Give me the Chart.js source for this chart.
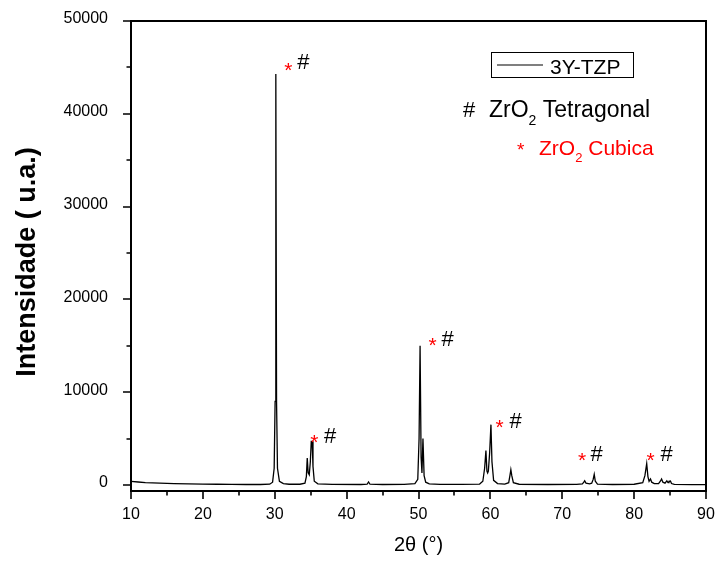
<!DOCTYPE html>
<html>
<head>
<meta charset="utf-8">
<script src="https://cdn.jsdelivr.net/npm/chart.js@4/dist/chart.umd.min.js"></script>
<style>
html,body{margin:0;padding:0;background:#fff;}
#wrap{width:719px;height:563px;}
</style>
</head>
<body>
<div id="wrap"><canvas id="c" width="719" height="563"></canvas></div>
<script>
// ---- data ----
const twoTheta = [10, 11, 12, 14, 16, 18, 20, 22, 24, 26, 28, 29.3, 29.7, 29.92, 30.05, 30.15, 30.25, 30.38, 30.65, 31.2, 32, 33.5,
  34.2, 34.4, 34.52, 34.65, 34.8, 34.95, 35.08, 35.2, 35.32, 35.5, 36, 38, 42, 42.85, 43.05, 43.25, 45, 48,
  49.5, 49.9, 50.08, 50.22, 50.36, 50.48, 50.62, 50.78, 51.0, 51.5, 53, 56,
  58.5, 58.95, 59.2, 59.38, 59.52, 59.62, 59.72, 59.9, 60.08, 60.22, 60.45, 61, 62,
  62.55, 62.72, 62.85, 62.98, 63.2, 64, 68, 72,
  72.8, 73.0, 73.12, 73.3, 73.8, 74.1, 74.3, 74.45, 74.6, 74.9, 77, 80,
  81.2, 81.5, 81.75, 81.92, 82.08, 82.28, 82.45, 82.8, 83.4, 83.65, 83.82, 84.0, 84.3, 84.55, 84.72, 84.85, 85.05, 85.2, 85.6, 88, 90];
const intensity = [380, 320, 260, 190, 150, 120, 95, 75, 60, 50, 50, 80, 300, 1800, 9000, 44300, 9000, 1800, 400, 150, 80, 80,
  200, 900, 2900, 1300, 1100, 2500, 4700, 4700, 2000, 400, 120, 60, 50, 80, 330, 80, 50, 60,
  150, 600, 5000, 15000, 3000, 1300, 5000, 1000, 300, 120, 60, 60,
  100, 400, 1800, 3700, 1500, 1300, 1500, 3500, 6500, 2500, 500, 150, 100,
  250, 1000, 1650, 1000, 250, 80, 50, 60,
  120, 300, 450, 200, 120, 200, 600, 1150, 400, 100, 50, 80,
  250, 1000, 2300, 900, 400, 650, 300, 150, 150, 400, 650, 300, 200, 450, 250, 400, 420, 150, 60, 40, 40];
const seriesName = '3Y-TZP';
const xTitle = '2θ (°)';
const yTitle = 'Intensidade ( u.a.)';
const xTickValues = [10, 20, 30, 40, 50, 60, 70, 80, 90];
const xMinorValues = [15, 25, 35, 45, 55, 65, 75, 85];
const yTickValues = [0, 10000, 20000, 30000, 40000, 50000];
const yMinorValues = [5000, 15000, 25000, 35000, 45000];
// peak markers: [2θ, intensity] of the "*" and "#" labels
const cubicMarks = [[31.88, 45150], [35.5, 5065], [51.95, 15440], [61.29, 6680], [72.76, 3125], [82.3, 3125]];
const tetraMarks = [[33.97, 45470], [37.7, 5200], [54.04, 15625], [63.52, 6820], [74.77, 3230], [84.52, 3230]];

const points = twoTheta.map((x, i) => ({x: x, y: intensity[i]}));
const FONT = "'Liberation Sans', Arial, sans-serif";

const decor = {
  id: 'decor',
  afterDraw(chart) {
    const ctx = chart.ctx, a = chart.chartArea;
    const xs = chart.scales.x, ys = chart.scales.y;
    ctx.save();
    ctx.strokeStyle = '#000';
    ctx.lineWidth = 2;
    ctx.strokeRect(a.left, a.top, a.right - a.left, a.bottom - a.top);
    ctx.lineWidth = 1.6;
    ctx.beginPath();
    xTickValues.forEach(v => { const p = Math.round(xs.getPixelForValue(v)); ctx.moveTo(p, a.bottom); ctx.lineTo(p, a.bottom + 8); });
    xMinorValues.forEach(v => { const p = Math.round(xs.getPixelForValue(v)); ctx.moveTo(p, a.bottom); ctx.lineTo(p, a.bottom + 4.5); });
    yTickValues.forEach(v => { const p = Math.round(ys.getPixelForValue(v)); ctx.moveTo(a.left, p); ctx.lineTo(a.left - 8, p); });
    yMinorValues.forEach(v => { const p = Math.round(ys.getPixelForValue(v)); ctx.moveTo(a.left, p); ctx.lineTo(a.left - 4.5, p); });
    ctx.stroke();

    // y axis title
    ctx.save();
    ctx.translate(28, 262);
    ctx.rotate(-Math.PI / 2);
    ctx.textAlign = 'center';
    ctx.textBaseline = 'middle';
    ctx.fillStyle = '#000';
    ctx.font = 'bold 27px ' + FONT;
    ctx.fillText(yTitle, 0, 0);
    ctx.restore();

    // peak markers
    ctx.textAlign = 'center';
    ctx.textBaseline = 'middle';
    ctx.fillStyle = '#ff0000';
    ctx.font = '21px ' + FONT;
    cubicMarks.forEach(m => ctx.fillText('*', xs.getPixelForValue(m[0]), ys.getPixelForValue(m[1]) + 5));
    ctx.fillStyle = '#000';
    ctx.font = '22px ' + FONT;
    tetraMarks.forEach(m => ctx.fillText('#', xs.getPixelForValue(m[0]), ys.getPixelForValue(m[1])));

    // legend box
    ctx.lineWidth = 1;
    ctx.strokeRect(491.5, 52.5, 142, 25);
    ctx.lineWidth = 1.2;
    ctx.beginPath(); ctx.moveTo(497, 65); ctx.lineTo(543, 65); ctx.stroke();
    ctx.textAlign = 'left';
    ctx.textBaseline = 'alphabetic';
    ctx.font = '21px ' + FONT;
    ctx.fillText(seriesName, 550, 74);

    // phase key
    function formula(x, y, size, color, rest) {
      ctx.fillStyle = color;
      ctx.font = size + 'px ' + FONT;
      ctx.fillText('ZrO', x, y);
      let w = ctx.measureText('ZrO').width;
      ctx.font = Math.round(size * 0.6) + 'px ' + FONT;
      ctx.fillText('2', x + w, y + size * 0.33);
      w += ctx.measureText('2').width;
      ctx.font = size + 'px ' + FONT;
      ctx.fillText(rest, x + w, y);
    }
    ctx.fillStyle = '#000';
    ctx.font = '22px ' + FONT;
    ctx.fillText('#', 463, 117);
    formula(489, 117, 23, '#000', ' Tetragonal');
    ctx.fillStyle = '#ff0000';
    ctx.font = '19px ' + FONT;
    ctx.fillText('*', 517, 156);
    formula(539, 155, 21, '#ff0000', ' Cubica');
    ctx.restore();
  }
};

new Chart(document.getElementById('c'), {
  type: 'scatter',
  data: {
    datasets: [{
      label: seriesName,
      data: points,
      showLine: true,
      borderColor: '#000',
      borderWidth: 1.3,
      pointRadius: 0,
      tension: 0,
      fill: false
    }]
  },
  options: {
    responsive: false,
    animation: false,
    layout: {padding: {top: 21, right: 13, left: 0, bottom: 0}},
    plugins: {legend: {display: false}, tooltip: {enabled: false}},
    scales: {
      x: {
        type: 'linear', min: 10, max: 90,
        afterBuildTicks: s => { s.ticks = xTickValues.map(v => ({value: v})); },
        afterFit: s => { s.height = 72; s.paddingLeft = 0; s.paddingRight = 0; },
        grid: {display: false},
        border: {display: false},
        ticks: {color: '#000', font: {family: FONT, size: 16}, padding: 6, maxRotation: 0},
        title: {display: true, text: xTitle, color: '#000', font: {family: FONT, size: 20}, padding: {top: 0, bottom: 6}}
      },
      y: {
        type: 'linear', min: -650, max: 50000,
        afterBuildTicks: s => { s.ticks = yTickValues.map(v => ({value: v})); },
        afterFit: s => { s.width = 131; s.paddingTop = 0; s.paddingBottom = 0; },
        grid: {display: false},
        border: {display: false},
        ticks: {color: '#000', font: {family: FONT, size: 16}, padding: 15, labelOffset: -2, callback: v => String(v)},
        title: {display: false}
      }
    }
  },
  plugins: [decor]
});
</script>
</body>
</html>
